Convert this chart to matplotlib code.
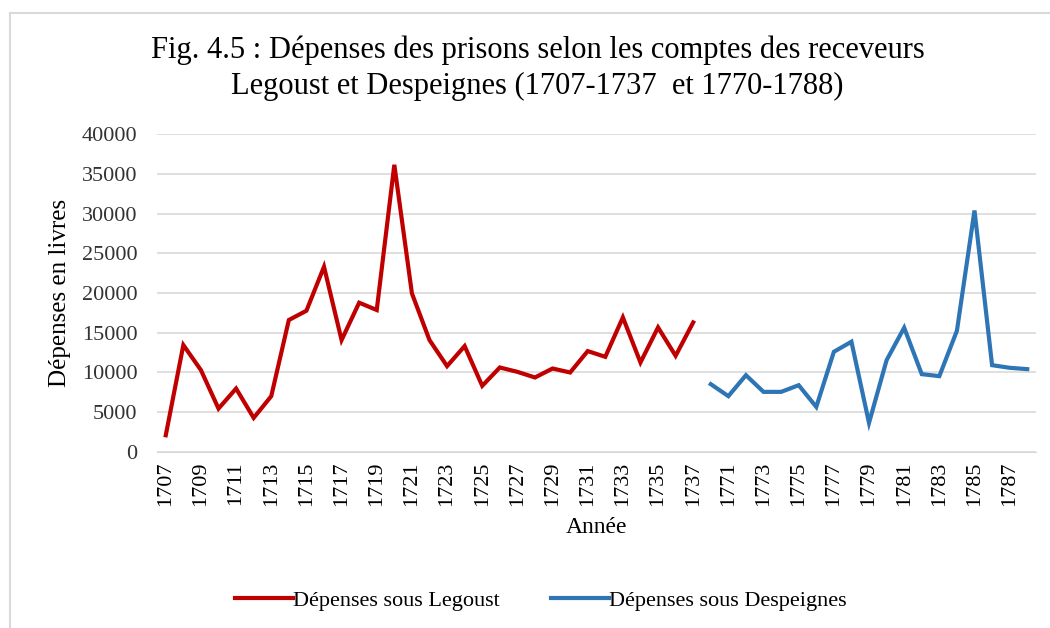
import matplotlib.pyplot as plt
import matplotlib.lines as mlines

plt.rcParams['font.family'] = ['Liberation Serif', 'DejaVu Serif']

# Legoust accounts 1707-1737
years_legoust = list(range(1707, 1738))
dep_legoust = [2100, 13450, 10300, 5460, 7980, 4290, 7020, 16600, 17770, 23300,
               14080, 18780, 17860, 36130, 19960, 14080, 10800, 13320, 8320, 10630,
               10080, 9370, 10500, 10000, 12690, 11970, 16930, 11260, 15670, 12100,
               16300]

# Despeignes accounts 1770-1788
years_despeignes = list(range(1770, 1789))
dep_despeignes = [8530, 7020, 9660, 7560, 7560, 8400, 5670, 12600, 13870, 3660,
                  11550, 15630, 9790, 9540, 15250, 30380, 10920, 10590, 10420]

categories = [str(y) for y in years_legoust + years_despeignes]
pos_a = list(range(len(years_legoust)))
pos_b = list(range(len(years_legoust), len(categories)))

fig = plt.figure(figsize=(10.5, 6.28), dpi=100)
ax = fig.add_axes([0.1495, 0.2803, 0.8372, 0.5063])

red = '#C00000'
blue = '#2E75B6'
ax.plot(pos_a, dep_legoust, color=red, lw=3, solid_joinstyle='miter', label='Dépenses sous Legoust')
ax.plot(pos_b, dep_despeignes, color=blue, lw=3, solid_joinstyle='miter', label='Dépenses sous Despeignes')

ax.set_xlim(-0.5, len(categories) - 0.5)
ax.set_ylim(0, 40000)
ax.set_yticks(range(0, 40001, 5000))
ax.set_yticklabels([str(v) for v in range(0, 40001, 5000)], fontsize=16, color='#333333')
ax.set_xticks(range(0, len(categories), 2))
ax.set_xticklabels(categories[::2], rotation=90, fontsize=16)
ax.tick_params(length=0)
ax.tick_params(axis='y', pad=14)
ax.tick_params(axis='x', pad=7)
ax.grid(axis='y', color='#d9d9d9', lw=1.2)
ax.set_axisbelow(True)
for s in ['top', 'right', 'left']:
    ax.spines[s].set_visible(False)
ax.spines['bottom'].set_color('#d9d9d9')

ax.set_ylabel('Dépenses en livres', fontsize=18, labelpad=8)
ax.set_xlabel('Année', fontsize=17, labelpad=8)

fig.text(0.512, 0.891, 'Fig. 4.5 : Dépenses des prisons selon les comptes des receveurs\n'
         'Legoust et Despeignes (1707-1737  et 1770-1788)',
         ha='center', va='center', fontsize=22, linespacing=1.3)

fig.legend(loc='center', bbox_to_anchor=(0.515, 0.044), ncol=2, frameon=False,
           fontsize=16, handlelength=2.6, handletextpad=0.0, columnspacing=2.3)

# chart area border (left and top only visible)
fig.add_artist(mlines.Line2D([0.0095, 0.0095], [0, 0.98], color='#d9d9d9', lw=1.5))
fig.add_artist(mlines.Line2D([0.0095, 1], [0.98, 0.98], color='#d9d9d9', lw=1.5))

fig.savefig('out.png', dpi=100)
